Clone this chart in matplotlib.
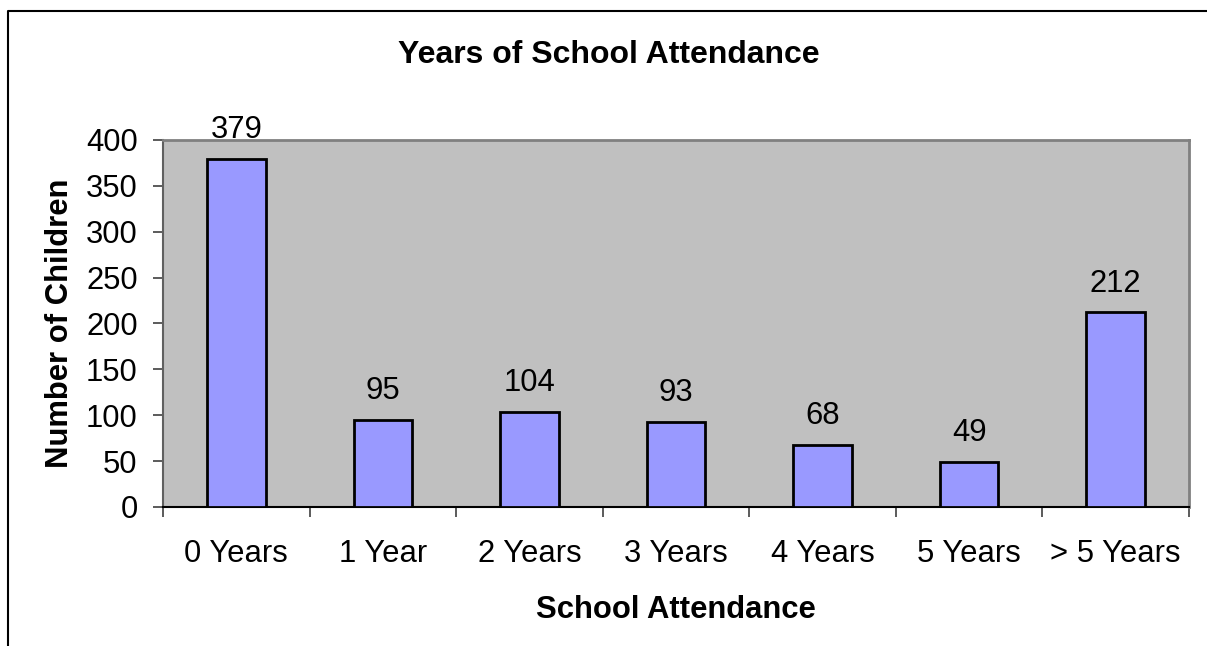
import matplotlib
matplotlib.use("Agg")
import matplotlib.pyplot as plt
import numpy as np
from matplotlib.lines import Line2D

categories = ["0 Years", "1 Year", "2 Years", "3 Years", "4 Years", "5 Years", "> 5 Years"]
children = [379, 95, 104, 93, 68, 49, 212]
y_ticks = [0, 50, 100, 150, 200, 250, 300, 350, 400]

plt.rcParams["font.family"] = ["Liberation Sans", "DejaVu Sans"]

fig = plt.figure(figsize=(12.07, 6.46), dpi=100)
ax = fig.add_axes([0.1350, 0.2152, 0.8501, 0.5681])
ax.set_facecolor("#C0C0C0")

x = np.arange(len(categories))
bars = ax.bar(x, children, width=0.40, color="#9999FF", edgecolor="black", linewidth=2, zorder=3)

# value labels above bars
for xi, v in zip(x, children):
    ax.annotate(str(v), (xi, v), xytext=(0, 10), textcoords="offset points",
                ha="center", va="bottom", fontsize=22.3)

ax.set_xlim(-0.5, len(categories) - 0.5)
ax.set_ylim(0, 400)
ax.set_yticks(y_ticks)
ax.set_xticks(x)
ax.set_xticklabels(categories)
ax.set_xticks(np.arange(-0.5, len(categories)), minor=True)
ax.tick_params(axis="x", which="major", length=0, pad=23, labelsize=22.3)
ax.tick_params(axis="x", which="minor", length=7.2, width=1.2, color="#404040")
ax.tick_params(axis="y", length=7.2, width=1.2, color="#404040", pad=11, labelsize=22.3)

for side in ["top", "right"]:
    ax.spines[side].set_color("#808080")
    ax.spines[side].set_linewidth(2)
ax.spines["left"].set_color("#606060")
ax.spines["left"].set_linewidth(1.5)
ax.spines["bottom"].set_color("black")
ax.spines["bottom"].set_linewidth(1.5)

ax.set_xlabel("School Attendance", fontsize=22.3, fontweight="bold", labelpad=19)
ax.set_ylabel("Number of Children", fontsize=22.3, fontweight="bold", labelpad=8)
fig.text(608.5 / 1207, 1 - 55 / 646, "Years of School Attendance", ha="center", va="center",
         fontsize=23, fontweight="bold")

# chart area border (left and top only, the rest is cropped)
fig.add_artist(Line2D([8 / 1207, 8 / 1207, 1.0], [0.0, 1 - 11 / 646, 1 - 11 / 646],
                      transform=fig.transFigure, color="black", linewidth=1.5))

fig.savefig("out.png", dpi=100)
